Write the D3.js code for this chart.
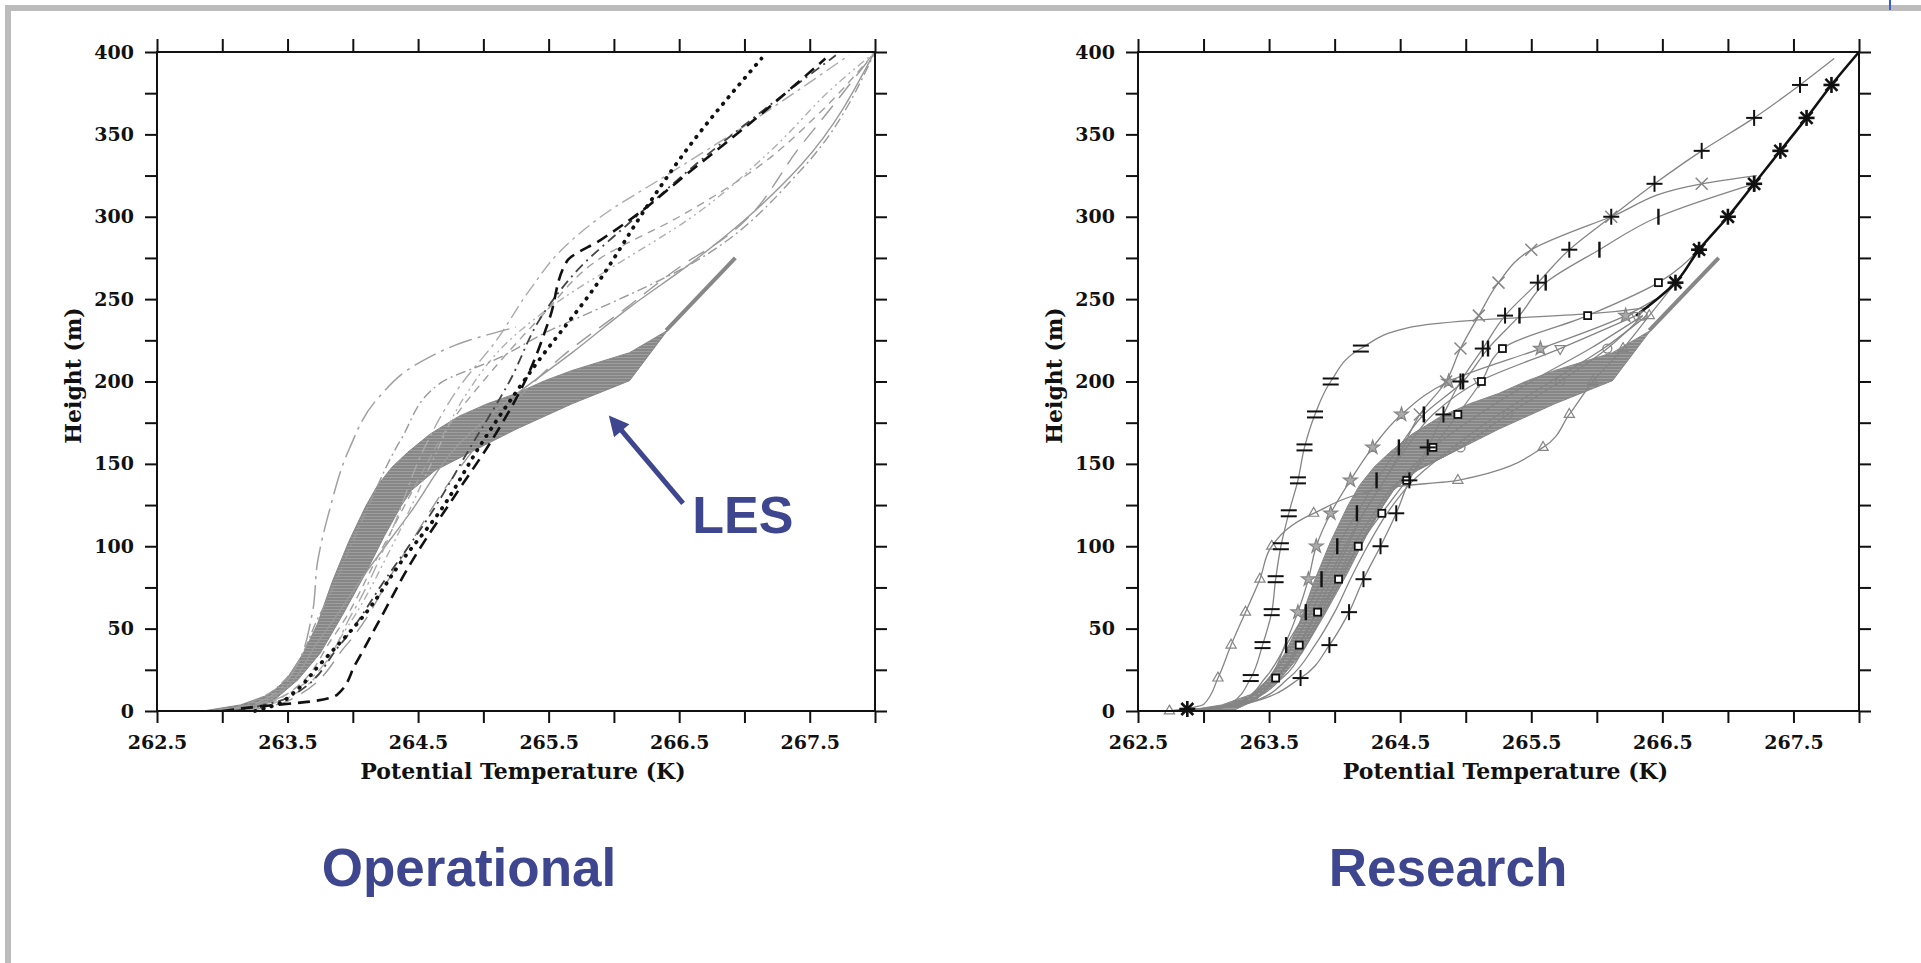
<!DOCTYPE html>
<html>
<head>
<meta charset="utf-8">
<script src="https://cdn.jsdelivr.net/npm/d3@7"></script>
<style>
  body { margin: 0; background: #fff; }
  svg { display: block; }
</style>
</head>
<body>
<svg id="chart" width="1921" height="963"></svg>
<script>
// ---------- data ----------
var xTickValues = [262.5, 263, 263.5, 264, 264.5, 265, 265.5, 266, 266.5, 267, 267.5, 268];
var yTickValues = [0, 25, 50, 75, 100, 125, 150, 175, 200, 225, 250, 275, 300, 325, 350, 375, 400];
var xTitle = "Potential Temperature (K)",
    yTitle = "Height (m)";
var panelNames = ["Operational", "Research"];

// LES envelope [theta, z]
var lesLeft = [[262.85,0],[263.14,3.7],[263.36,10],[263.49,19],[263.62,35],[263.73,53],[263.84,78],
  [263.97,103],[264.10,124.5],[264.19,137],[264.30,148],[264.42,157],[264.59,168],[264.81,178.8],
  [265.03,186.5],[265.25,192.7],[265.47,200.5],[265.68,206.7],[266.12,217.5],[266.41,231]];
var lesRight = [[263.22,0],[263.40,6.8],[263.58,19],[263.75,35],[263.93,59.5],[264.10,84],[264.24,106],
  [264.37,124.5],[264.45,134],[264.63,146],[264.94,158.6],[265.25,171],[265.68,186.5],[266.12,200.5],[266.41,231]];
var lesTop = [[266.40,231],[266.93,275]];

// operational runs [theta, z]
var opDotted = [[263.25,0],[263.42,4],[263.53,10],[263.75,28.5],[264.10,59.5],[264.37,90.5],[264.67,121.5],
  [264.98,161.7],[265.38,208],[265.86,258],[266.26,307],[266.56,341],[267.13,396]];
var opDashed = [[263.0,0],[263.22,2.2],[263.70,6],[263.88,9.9],[264.02,28.5],[264.19,53],[264.45,90.5],
  [264.81,134],[265.07,165],[265.33,202],[265.51,239],[265.64,273],[265.90,286],[266.12,298],[266.56,326],
  [267.00,354],[267.62,396]];
var opDashDotBlack = [[263.1,0],[263.5,8],[263.9,40],[264.25,80],[264.6,120],[264.9,160],[265.2,200],
  [265.45,240],[265.75,270],[266.1,295],[266.6,330],[267.15,365],[267.7,398]];
var opLeftCurve = [[262.96,0],[263.27,5],[263.53,22],[263.69,59.5],[263.73,90.5],[263.82,121.5],[263.97,158.6],
  [264.19,189.6],[264.50,211],[264.89,225],[265.25,233]];
var opSolid = [[263.1,0],[263.36,6.8],[263.75,44],[264.10,84],[264.45,121.5],[264.81,161.7],[265.16,186.5],
  [265.68,217.5],[266.12,245],[266.56,270],[267.00,298],[267.44,332],[267.99,399]];
var opLongDash = [[263.2,0],[263.5,6],[263.95,40],[264.35,90],[264.75,140],[265.15,180],[265.6,215],
  [266.1,245],[266.55,272],[266.81,285],[267.45,345],[268.0,400]];
var opDashDot2 = [[263.2,0],[263.55,10],[263.95,50],[264.3,100],[264.6,150],[264.85,190],[265.2,225],
  [265.6,250],[266.0,270],[266.6,300],[267.2,340],[267.7,380],[268,400]];
var opDash3 = [[263.15,0],[263.45,8],[263.85,45],[264.2,95],[264.5,140],[264.75,175],[265.05,205],
  [265.45,240],[265.9,275],[266.5,300],[267.1,330],[267.6,365],[268,400]];
var opDash4 = [[263.2,0],[263.6,15],[264.0,60],[264.3,110],[264.55,160],[264.8,195],[265.1,225],
  [265.35,255],[265.6,280],[265.9,300],[266.4,325],[267.0,355],[267.8,398]];
var opDashDot5 = [[263.05,0],[263.40,13],[263.75,59],[264.10,121],[264.37,165],[264.67,199],[265.11,214],
  [265.51,231],[265.82,242],[266.56,270],[267.44,329],[268.0,400]];

// research runs [theta, z]
var rsEq = [[262.80,0],[263.2,4],[263.36,20],[263.45,40],[263.52,60],[263.55,80],[263.59,100],[263.65,120],
  [263.72,140],[263.77,160],[263.85,180],[263.97,200],[264.20,220],[264.58,233],[265.03,237],[265.93,241],[266.40,245]];
var rsPlus = [[262.85,0],[263.3,4],[263.74,20],[263.96,40],[264.11,60],[264.22,80],[264.35,100],[264.47,120],
  [264.57,140],[264.71,160],[264.83,180],[264.96,200],[265.13,220],[265.30,240],[265.55,260],[265.79,280],
  [266.11,300],[266.44,320],[266.80,340],[267.20,360],[267.55,380],[267.81,396]];
var rsCross = [[262.9,0],[263.3,4],[263.55,20],[263.72,40],[263.86,60],[263.98,80],[264.10,100],[264.22,120],
  [264.38,140],[264.52,160],[264.65,180],[264.85,200],[264.96,220],[265.10,240],[265.25,260],[265.50,280],
  [266.11,300],[266.80,320],[267.22,325]];
var rsBar = [[262.85,0],[263.25,4],[263.47,20],[263.63,40],[263.78,60],[263.90,80],[264.02,100],[264.17,120],
  [264.32,140],[264.49,160],[264.68,180],[264.98,200],[265.17,220],[265.41,240],[265.61,260],[266.02,280],
  [266.47,300],[267.20,320]];
var rsSquare = [[262.85,0],[263.2,4],[263.55,20],[263.73,40],[263.87,60],[264.03,80],[264.18,100],[264.36,120],
  [264.55,140],[264.75,160],[264.94,180],[265.12,200],[265.28,220],[265.93,240],[266.47,260],[266.78,280]];
var rsTri = [[262.74,0],[263.0,4],[263.11,20],[263.21,40],[263.32,60],[263.43,80],[263.52,100],[263.84,120],
  [264.45,136],[264.94,140],[265.59,160],[265.79,180],[265.97,200],[266.20,220],[266.40,240],[266.60,260]];
var rsStar = [[262.9,0],[263.25,4],[263.5,20],[263.62,40],[263.72,60],[263.80,80],[263.86,100],[263.97,120],
  [264.12,140],[264.29,160],[264.51,180],[264.87,200],[265.57,220],[266.22,240],[266.45,250]];
var rsCircle = [[262.9,0],[263.3,4],[263.55,20],[263.75,40],[263.9,60],[264.02,80],[264.14,100],[264.3,120],
  [264.5,140],[264.96,160],[265.32,180],[265.72,200],[266.08,220],[266.35,240]];
var rsDownTri = [[262.9,0],[263.25,4],[263.5,20],[263.68,40],[263.82,60],[263.95,80],[264.08,100],[264.22,120],
  [264.38,140],[264.55,160],[264.75,180],[265.1,200],[265.72,220],[266.3,240]];
var rsPlain1 = [[262.8,0],[263.3,5],[263.6,20],[263.78,40],[263.92,60],[264.05,80],[264.18,100],[264.33,120],
  [264.5,140],[264.75,160],[265.1,180],[265.5,200],[265.95,220],[266.35,240]];
var rsPlain2 = [[262.85,0],[263.35,5],[263.65,20],[263.85,40],[264.0,60],[264.12,80],[264.25,100],[264.4,120],
  [264.6,140],[264.9,160],[265.25,180],[265.65,200],[266.05,220],[266.38,240]];
var rsThick = [[266.30,240],[266.60,260],[266.78,280],[267.00,300],[267.20,320],[267.40,340],[267.60,360],
  [267.79,380],[268.0,400]];

// ---------- setup ----------
var svg = d3.select("#chart");
var fontAxis = "DejaVu Serif, serif",
    fontLabel = "Liberation Sans, Arial, sans-serif",
    ink = "#111", blue = "#3e468f";

var margin = {top: 52, bottom: 711};
var panels = [
  {left: 157, right: 875, name: panelNames[0], labelX: 469},
  {left: 1138, right: 1859, name: panelNames[1], labelX: 1448}
];

// page frame (slide border)
svg.append("rect").attr("x", 5).attr("y", 5).attr("width", 1921).attr("height", 6).style("fill", "#bcbcbc");
svg.append("rect").attr("x", 5).attr("y", 5).attr("width", 6).attr("height", 963).style("fill", "#bcbcbc");
svg.append("line").attr("x1", 1890).attr("x2", 1890).attr("y1", 0).attr("y2", 10)
  .style("stroke", "#3b5bdb").style("stroke-width", 2);

// hatched grey fill for LES band
var defs = svg.append("defs");
var pat = defs.append("pattern").attr("id", "hatch").attr("patternUnits", "userSpaceOnUse")
  .attr("width", 6).attr("height", 3);
pat.append("rect").attr("width", 6).attr("height", 3).style("fill", "#878787");
pat.append("line").attr("x1", 0).attr("x2", 6).attr("y1", 0.5).attr("y2", 0.5)
  .style("stroke", "#9e9e9e").style("stroke-width", 1);

defs.append("marker").attr("id", "arrowHead").attr("viewBox", "0 0 10 10")
  .attr("refX", 2).attr("refY", 5).attr("markerWidth", 5).attr("markerHeight", 4)
  .attr("markerUnits", "strokeWidth").attr("orient", "auto")
  .append("path").attr("d", "M0,0 L10,5 L0,10 z").style("fill", blue);

var scales = panels.map(function(p) {
  return {
    x: d3.scaleLinear().domain([262.5, 268]).range([p.left, p.right]),
    y: d3.scaleLinear().domain([0, 400]).range([margin.bottom, margin.top])
  };
});

// ---------- panels ----------
drawBand(scales[0]);
drawOperational(scales[0]);
drawBand(scales[1]);
drawResearch(scales[1]);
panels.forEach(function(p, i) { drawAxes(scales[i], p); });

// LES annotation on the operational panel
var sx = scales[0].x, sy = scales[0].y;
svg.append("line")
  .attr("x1", sx(266.53)).attr("y1", sy(126))
  .attr("x2", sx(266.04)).attr("y2", sy(172))
  .attr("marker-end", "url(#arrowHead)")
  .style("stroke", blue).style("stroke-width", 5);
svg.append("text")
  .attr("x", sx(266.60)).attr("y", sy(108))
  .style("font-family", fontLabel).style("font-weight", "bold").style("font-size", "52px")
  .style("fill", blue)
  .text("LES");

function drawBand(s) {
  var poly = lesLeft.concat(lesRight.slice().reverse());
  svg.append("path")
    .attr("d", d3.line().x(d => s.x(d[0])).y(d => s.y(d[1])).curve(d3.curveLinearClosed)(poly))
    .style("fill", "url(#hatch)")
    .style("stroke", "#878787").style("stroke-width", 1);
  svg.append("path")
    .attr("d", d3.line().x(d => s.x(d[0])).y(d => s.y(d[1]))(lesTop))
    .style("fill", "none").style("stroke", "#878787").style("stroke-width", 4);
}

function profileLine(s) {
  return d3.line().x(d => s.x(d[0])).y(d => s.y(d[1])).curve(d3.curveMonotoneY);
}

function drawOperational(s) {
  var runs = [
    {d: opSolid,        c: "#9a9a9a", w: 1.4, dash: null},
    {d: opLongDash,     c: "#9a9a9a", w: 1.4, dash: "18,10"},
    {d: opDashDot2,     c: "#b0b0b0", w: 1.4, dash: "8,4,2,4,2,4"},
    {d: opDash3,        c: "#a0a0a0", w: 1.4, dash: "8,6"},
    {d: opDash4,        c: "#aaaaaa", w: 1.4, dash: "14,5,3,5"},
    {d: opDashDot5,     c: "#9a9a9a", w: 1.4, dash: "10,4,2,4"},
    {d: opLeftCurve,    c: "#a0a0a0", w: 1.5, dash: "24,6,3,6"},
    {d: opDashDotBlack, c: "#444",    w: 1.8, dash: "10,5,2,5"},
    {d: opDashed,       c: ink,       w: 2.6, dash: "12,7"},
    {d: opDotted,       c: ink,       w: 3.8, dash: "0.5,8", cap: "round"}
  ];
  var line = profileLine(s);
  runs.forEach(function(r) {
    svg.append("path")
      .attr("d", line(r.d))
      .style("fill", "none")
      .style("stroke", r.c)
      .style("stroke-width", r.w)
      .style("stroke-dasharray", r.dash)
      .style("stroke-linecap", r.cap || "butt");
  });
}

function drawResearch(s) {
  var grey = "#858585";
  var runs = [
    {d: rsPlain1,  m: null},
    {d: rsPlain2,  m: null},
    {d: rsCircle,  m: "circle", mc: grey, lo: 160},
    {d: rsDownTri, m: "dtri",   mc: grey, lo: 200},
    {d: rsStar,    m: "star",   mc: grey, lo: 60},
    {d: rsTri,     m: "tri",    mc: grey, lo: 0},
    {d: rsCross,   m: "cross",  mc: grey, lo: 180},
    {d: rsSquare,  m: "square", mc: ink,  lo: 20},
    {d: rsBar,     m: "bar",    mc: ink,  lo: 40},
    {d: rsEq,      m: "eq",     mc: ink,  lo: 20},
    {d: rsPlus,    m: "plus",   mc: ink,  lo: 20}
  ];
  var line = profileLine(s);
  runs.forEach(function(r) {
    svg.append("path")
      .attr("d", line(r.d))
      .style("fill", "none")
      .style("stroke", grey)
      .style("stroke-width", 1.3);
  });
  // thick merged profile on top
  svg.append("path")
    .attr("d", line(rsThick))
    .style("fill", "none").style("stroke", ink).style("stroke-width", 2.6);

  runs.forEach(function(r) {
    if (!r.m) return;
    r.d.forEach(function(d) {
      if (d[1] % 20 === 0 && d[1] >= r.lo && d[1] > 0 || (d[1] === 0 && r.lo === 0)) {
        drawMarker(r.m, s.x(d[0]), s.y(d[1]), r.mc);
      }
    });
  });
  rsThick.forEach(function(d) {
    if (d[1] >= 260 && d[1] < 400) drawMarker("ast", s.x(d[0]), s.y(d[1]), ink);
  });
  drawMarker("ast", s.x(rsEq[0][0]) + 10, s.y(0) - 2, ink);
}

function drawMarker(type, cx, cy, color) {
  var g = svg.append("g").attr("transform", "translate(" + cx + "," + cy + ")")
    .style("stroke", color).style("fill", "none");
  var seg = function(x1, y1, x2, y2, w) {
    g.append("line").attr("x1", x1).attr("y1", y1).attr("x2", x2).attr("y2", y2).style("stroke-width", w);
  };
  switch (type) {
    case "eq":
      seg(-8, -3, 8, -3, 2); seg(-8, 3, 8, 3, 2);
      break;
    case "plus":
      seg(-8, 0, 8, 0, 2); seg(0, -8, 0, 8, 2);
      break;
    case "ast":
      seg(-8, 0, 8, 0, 2.6); seg(0, -8, 0, 8, 2.6);
      seg(-6, -6, 6, 6, 2.6); seg(-6, 6, 6, -6, 2.6);
      break;
    case "bar":
      seg(0, -8, 0, 8, 2.4);
      break;
    case "cross":
      seg(-6, -6, 6, 6, 1.5); seg(-6, 6, 6, -6, 1.5);
      break;
    case "square":
      g.append("rect").attr("x", -3.5).attr("y", -3.5).attr("width", 7).attr("height", 7)
        .style("fill", "#fff").style("stroke-width", 1.8);
      break;
    case "circle":
      g.append("circle").attr("r", 4.5).style("stroke-width", 1.3);
      break;
    case "tri":
      g.append("path").attr("d", d3.symbol(d3.symbolTriangle, 45)()).style("stroke-width", 1.2);
      break;
    case "dtri":
      g.append("path").attr("d", d3.symbol(d3.symbolTriangle, 45)())
        .attr("transform", "rotate(180)").style("stroke-width", 1.2);
      break;
    case "star":
      g.append("path").attr("d", d3.symbol(d3.symbolStar, 60)())
        .style("stroke-width", 1.2).style("fill", "#aaa");
      break;
  }
}

function drawAxes(s, p) {
  var x0 = p.left, x1 = p.right, yb = margin.bottom, yt = margin.top;
  var xFmt = function(d) { return (d * 2) % 2 === 1 ? d3.format(".1f")(d) : ""; };
  var yFmt = function(d) { return d % 50 === 0 ? d : ""; };

  var axes = [
    {a: d3.axisBottom(s.x).tickValues(xTickValues).tickFormat(xFmt).tickSize(12).tickPadding(13), t: "translate(0," + yb + ")"},
    {a: d3.axisTop(s.x).tickValues(xTickValues).tickFormat("").tickSize(13), t: "translate(0," + yt + ")"},
    {a: d3.axisLeft(s.y).tickValues(yTickValues).tickFormat(yFmt).tickSize(12).tickPadding(11), t: "translate(" + x0 + ",0)"},
    {a: d3.axisRight(s.y).tickValues(yTickValues).tickFormat("").tickSize(12), t: "translate(" + x1 + ",0)"}
  ];
  axes.forEach(function(ax) {
    svg.append("g")
      .attr("class", "axisLabel")
      .attr("transform", ax.t)
      .call(ax.a)
      .call(g => g.select(".domain").remove())
      .call(g => g.selectAll("line").style("stroke", ink).style("stroke-width", 2))
      .call(g => g.selectAll("text")
        .style("font-family", fontAxis).style("font-weight", "bold")
        .style("font-size", "19px").style("fill", ink));
  });

  svg.append("rect")
    .attr("x", x0).attr("y", yt).attr("width", x1 - x0).attr("height", yb - yt)
    .style("fill", "none").style("stroke", ink).style("stroke-width", 2);

  svg.append("text")
    .attr("class", "axisTitle")
    .attr("x", (x0 + x1) / 2 + 7).attr("y", yb + 68)
    .attr("text-anchor", "middle")
    .style("font-family", fontAxis).style("font-weight", "bold").style("font-size", "22px")
    .style("fill", ink)
    .text(xTitle);

  svg.append("text")
    .attr("class", "axisTitle")
    .attr("transform", "rotate(-90)")
    .attr("x", -((yt + yb) / 2 - 6)).attr("y", x0 - 76)
    .attr("text-anchor", "middle")
    .style("font-family", fontAxis).style("font-weight", "bold").style("font-size", "22px")
    .style("fill", ink)
    .text(yTitle);

  svg.append("text")
    .attr("x", p.labelX).attr("y", 886)
    .attr("text-anchor", "middle")
    .style("font-family", fontLabel).style("font-weight", "bold").style("font-size", "53px")
    .style("fill", blue)
    .text(p.name);
}
</script>
</body>
</html>
